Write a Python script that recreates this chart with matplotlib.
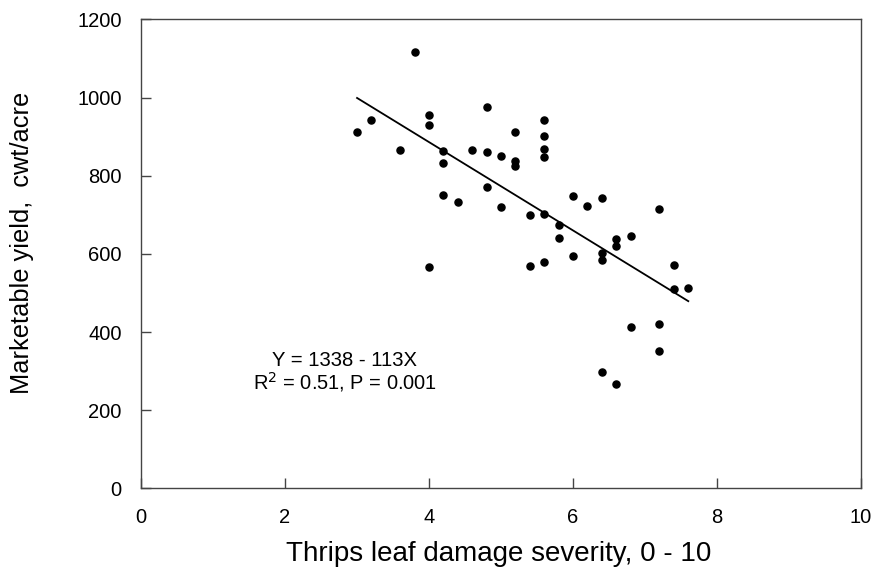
import numpy as np
import matplotlib.pyplot as plt

plt.rcParams['font.family'] = ['Liberation Sans', 'DejaVu Sans']

# Thrips leaf damage severity (0 - 10)
severity = [3.0, 3.2, 3.6, 3.8, 4.0, 4.0, 4.0, 4.2, 4.2, 4.2, 4.4, 4.6,
            4.8, 4.8, 4.8, 5.0, 5.0, 5.2, 5.2, 5.2, 5.4, 5.4,
            5.6, 5.6, 5.6, 5.6, 5.6, 5.6, 5.8, 5.8, 6.0, 6.0, 6.2,
            6.4, 6.4, 6.4, 6.4, 6.6, 6.6, 6.6, 6.8, 6.8,
            7.2, 7.2, 7.2, 7.4, 7.4, 7.6]
# Marketable yield, cwt/acre
yield_cwt = [911, 942, 866, 1116, 955, 929, 566, 864, 832, 751, 732, 865,
             975, 860, 771, 850, 721, 913, 838, 825, 699, 569,
             942, 901, 868, 847, 703, 579, 674, 642, 747, 595, 722,
             744, 603, 584, 299, 639, 620, 267, 645, 414,
             714, 422, 351, 572, 510, 514]

# regression Y = 1338 - 113X
intercept = 1338
slope = -113
fit_range = [3.0, 7.6]

fig = plt.figure(figsize=(8.76, 5.7), dpi=100)
ax = fig.add_axes([0.161, 0.143, 0.822, 0.823])

ax.scatter(severity, yield_cwt, s=26, color='black', zorder=3)
fx = np.array(fit_range)
ax.plot(fx, intercept + slope * fx, color='black', lw=1.3)

ax.text(2.83, 328, 'Y = 1338 - 113X', ha='center', va='center', fontsize=14.6)
ax.text(2.83, 272, 'R$^2$ = 0.51, P = 0.001', ha='center', va='center', fontsize=14.4)

ax.set_xlim(0, 10)
ax.set_ylim(0, 1200)
ax.set_xticks([0, 2, 4, 6, 8, 10])
ax.set_yticks(range(0, 1201, 200))
ax.tick_params(direction='in', length=7.5, width=1, color='#444444',
               labelsize=14.5, pad=14)
for sp in ax.spines.values():
    sp.set_color('#444444')
    sp.set_linewidth(1)

ax.set_xlabel('Thrips leaf damage severity, 0 - 10', fontsize=20)
ax.set_ylabel('Marketable yield,  cwt/acre', fontsize=18.3)
ax.xaxis.set_label_coords(0.4965, -0.113)
ax.yaxis.set_label_coords(-0.149, 0.523)

fig.savefig('out.png', dpi=100)
